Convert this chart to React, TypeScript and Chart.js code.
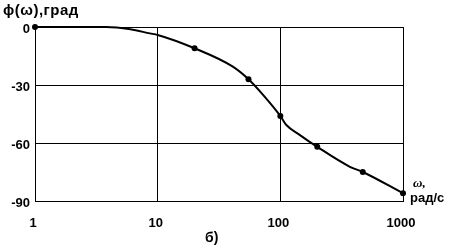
import React, { useEffect, useRef } from "react";
import { Chart, registerables } from "chart.js";

Chart.register(...registerables);

// Marked points (ω in rad/s, φ in degrees)
const markerOmega = [1, 20, 55, 100, 200, 470, 1000];
const markerPhase = [0, -11, -27, -46, -62, -75, -86];

// Curve
const curveOmega = [1, 2, 3.8, 6, 8.65, 10, 20, 41, 55, 72.6, 100, 112, 144.5, 200, 369, 470, 1000];
const curvePhase = [0, 0, 0, -1.2, -3.3, -4.1, -11, -20.5, -27, -35.2, -46, -50.7, -55.9, -62, -72.3, -75, -86];

const xTicks = [1, 10, 100, 1000];
const yTicks = [-90, -60, -30, 0];

const FONT = "'Liberation Sans', Arial, sans-serif";

export default function App() {
  const ref = useRef<HTMLCanvasElement>(null);

  useEffect(() => {
    if (!ref.current) return;
    const chart = new Chart(ref.current, {
      type: "line",
      data: {
        datasets: [
          {
            data: curveOmega.map((x, i) => ({ x, y: curvePhase[i] })),
            borderColor: "#000",
            borderWidth: 2,
            pointRadius: 0,
            cubicInterpolationMode: "monotone",
            fill: false,
            clip: false as any,
          },
          {
            data: markerOmega.map((x, i) => ({ x, y: markerPhase[i] })),
            showLine: false,
            pointRadius: 3,
            pointBackgroundColor: "#000",
            pointBorderColor: "#000",
            pointBorderWidth: 0,
            clip: false as any,
          },
        ],
      },
      options: {
        animation: false,
        responsive: false,
        layout: { padding: { top: 27, right: 52, left: 0, bottom: 0 } },
        plugins: { legend: { display: false }, tooltip: { enabled: false } },
        scales: {
          x: {
            type: "logarithmic",
            min: 1,
            max: 1000,
            afterBuildTicks: (s: any) => {
              s.ticks = xTicks.map((v) => ({ value: v }));
            },
            afterFit: (s: any) => {
              s.height = 49;
            },
            ticks: {
              autoSkip: false,
              maxRotation: 0,
              padding: 15,
              labelOffset: -2,
              color: "#000",
              font: { family: FONT, size: 13, weight: "bold" },
              callback: (v: any) => String(v),
            },
            grid: { color: "#000", lineWidth: 1, drawTicks: false },
            border: { color: "#000", width: 1 },
          },
          y: {
            type: "linear",
            min: -90,
            max: 0,
            afterBuildTicks: (s: any) => {
              s.ticks = yTicks.map((v) => ({ value: v }));
            },
            afterFit: (s: any) => {
              s.width = 35;
            },
            ticks: {
              padding: 5,
              labelOffset: 2,
              color: "#000",
              font: { family: FONT, size: 13, weight: "bold" },
            },
            grid: { color: "#000", lineWidth: 1, drawTicks: false },
            border: { color: "#000", width: 1 },
          },
        },
      },
    } as any);
    return () => chart.destroy();
  }, []);

  const txt: React.CSSProperties = {
    position: "absolute",
    fontFamily: FONT,
    fontWeight: "bold",
    color: "#000",
    whiteSpace: "nowrap",
    lineHeight: 1,
  };

  return (
    <div style={{ position: "absolute", left: 0, top: 0, width: 455, height: 250, background: "#fff" }}>
      <canvas ref={ref} width={455} height={250} style={{ position: "absolute", left: 0, top: 0 }} />
      <div style={{ ...txt, left: 3, top: 2, fontSize: 15, letterSpacing: 0.5 }}>ϕ(ω),град</div>
      <div style={{ ...txt, left: 413, top: 176, fontSize: 13, fontFamily: "'Liberation Serif', serif", fontStyle: "italic" }}>ω,</div>
      <div style={{ ...txt, left: 410, top: 191, fontSize: 13 }}>рад/с</div>
      <div style={{ ...txt, left: 205, top: 230, fontSize: 14 }}>б)</div>
    </div>
  );
}
